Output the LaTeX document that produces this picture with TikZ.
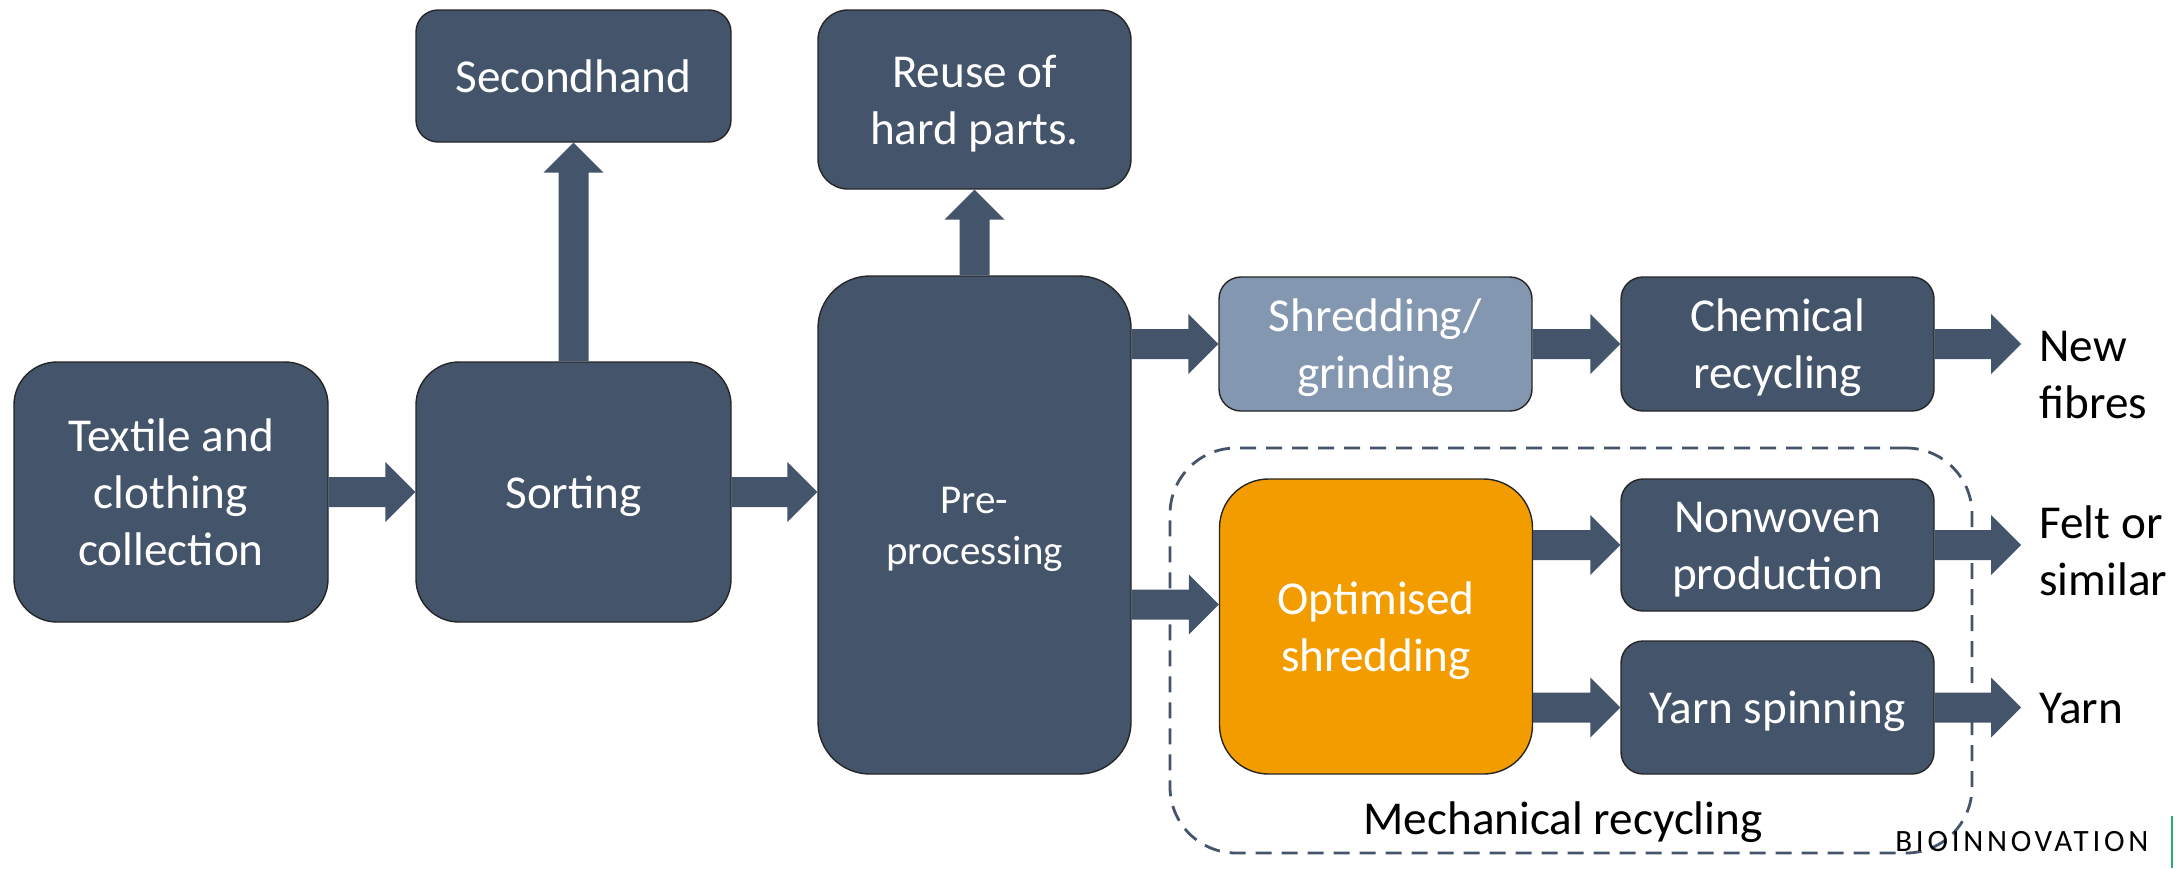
\documentclass[tikz,border=0pt]{standalone}
\usepackage{fontspec}
\setmainfont{Carlito}
\newfontfamily\logofam[LetterSpace=12]{Carlito}
\usetikzlibrary{calc}
\definecolor{slate}{HTML}{44546A}
\definecolor{lightslate}{HTML}{8497B0}
\definecolor{orangebox}{HTML}{F39C00}
\definecolor{logogreen}{HTML}{2AAE74}
\newcommand\mainsize{\fontsize{23.6}{28.5}\selectfont}
\newcommand\presize{\fontsize{20.5}{25.5}\selectfont}
\newcommand\logosize{\logofam\fontsize{15.5}{18}\selectfont}
% line strut: places the baseline as a slide text box does
\newcommand\ls{\rule[\dimexpr0.34em-0.5\baselineskip\relax]{0pt}{\baselineskip}}
\newcommand\harr[2]{\fill[slate] ($(#1)+(0,-15)$) -- ($(#2)+(-30,-15)$) -- ($(#2)+(-30,-30)$) -- (#2) -- ($(#2)+(-30,30)$) -- ($(#2)+(-30,15)$) -- ($(#1)+(0,15)$) -- cycle;}
\newcommand\varr[2]{\fill[slate] ($(#1)+(-15,0)$) -- ($(#2)+(-15,30)$) -- ($(#2)+(-30,30)$) -- (#2) -- ($(#2)+(30,30)$) -- ($(#2)+(15,30)$) -- ($(#1)+(15,0)$) -- cycle;}
\begin{document}
\begin{tikzpicture}[x=0.5pt,y=-0.5pt,
  box/.style={draw=black!85, line width=0.7pt, fill=slate, text=white, font=\mainsize,
    align=center, inner sep=0pt, minimum width=156.5pt},
  outtext/.style={font=\mainsize, align=left, inner xsep=9pt, inner ysep=0pt, text=black},
  mechbox/.style={draw=slate, line width=1.4pt, dash pattern=on 8pt off 5pt,
    rounded corners=33pt, inner sep=0pt}]
\useasboundingbox (0,0) rectangle (2182,868);
\fill[white] (0,0) rectangle (2182,868);

% dashed group
\node[mechbox, minimum width=401pt, minimum height=202.5pt] (mech) at (1571,650.5) {};
\node[font=\mainsize, inner sep=0pt] (mechlabel) at (1563,818) {\ls Mechanical recycling};

% boxes
\node[box, minimum width=157pt, minimum height=130pt, rounded corners=21.5pt] (textile) at (171,492) {\ls Textile and\\\ls clothing\\\ls collection};
\node[box, minimum width=157.5pt, minimum height=130pt, rounded corners=21.5pt] (sorting) at (573.5,492) {\ls Sorting};
\node[box, minimum width=157.5pt, minimum height=66pt, rounded corners=11pt] (second) at (573.5,76) {\ls Secondhand};
\node[box, minimum height=249pt, rounded corners=26pt, font=\presize] (pre) at (974.5,525) {\ls Pre-\\\ls processing};
\node[box, minimum height=89.5pt, rounded corners=15pt] (reuse) at (974.5,99.5) {\ls Reuse of\\\ls hard parts.};
\node[box, fill=lightslate, minimum height=67pt, rounded corners=11pt] (shred) at (1375.5,344) {\ls Shredding/\\\ls grinding};
\node[box, minimum height=67pt, rounded corners=11pt] (chem) at (1777.5,344) {\ls Chemical\\\ls recycling};
\node[box, fill=orangebox, minimum height=147.5pt, rounded corners=24.5pt] (opt) at (1376,626.5) {\ls Optimised\\\ls shredding};
\node[box, minimum height=66pt, rounded corners=11pt] (nonwoven) at (1777.5,545) {\ls Nonwoven\\\ls production};
\node[box, minimum height=66.5pt, rounded corners=11pt] (yarnsp) at (1777.5,707.5) {\ls Yarn spinning};

% output texts
\node[outtext, anchor=west] (newf) at (2021,374) {\ls New\\\ls fibres};
\node[outtext, anchor=west] (felt) at (2021,551) {\ls Felt or\\\ls similar};
\node[outtext, anchor=west] (yarnout) at (2021,707.5) {\ls Yarn};

% helper coordinates
\coordinate (s2p) at (pre.west |- sorting.east);
\coordinate (p2sA) at (pre.east |- shred.west);
\coordinate (optin) at ($(opt.west)+(0,-22)$);
\coordinate (p2oA) at (pre.east |- optin);
\coordinate (c2n) at (newf.west |- chem.east);
\coordinate (o2nA) at (opt.east |- nonwoven.west);
\coordinate (o2yA) at (opt.east |- yarnsp.west);
\coordinate (n2f) at (felt.west |- nonwoven.east);
\coordinate (y2y) at (yarnout.west |- yarnsp.east);

% arrows
\harr{textile.east}{sorting.west}
\harr{sorting.east}{s2p}
\varr{sorting.north}{second.south}
\varr{pre.north}{reuse.south}
\harr{p2sA}{shred.west}
\harr{p2oA}{optin}
\harr{shred.east}{chem.west}
\harr{chem.east}{c2n}
\harr{o2nA}{nonwoven.west}
\harr{o2yA}{yarnsp.west}
\harr{nonwoven.east}{n2f}
\harr{yarnsp.east}{y2y}

% logo
\node[anchor=west, inner sep=0pt, font=\logosize, text=black] (logo) at (1895,842) {BIOINNOVATION};
\draw[logogreen, line width=1pt] (2172,816) -- (2172,868);
\end{tikzpicture}
\end{document}
